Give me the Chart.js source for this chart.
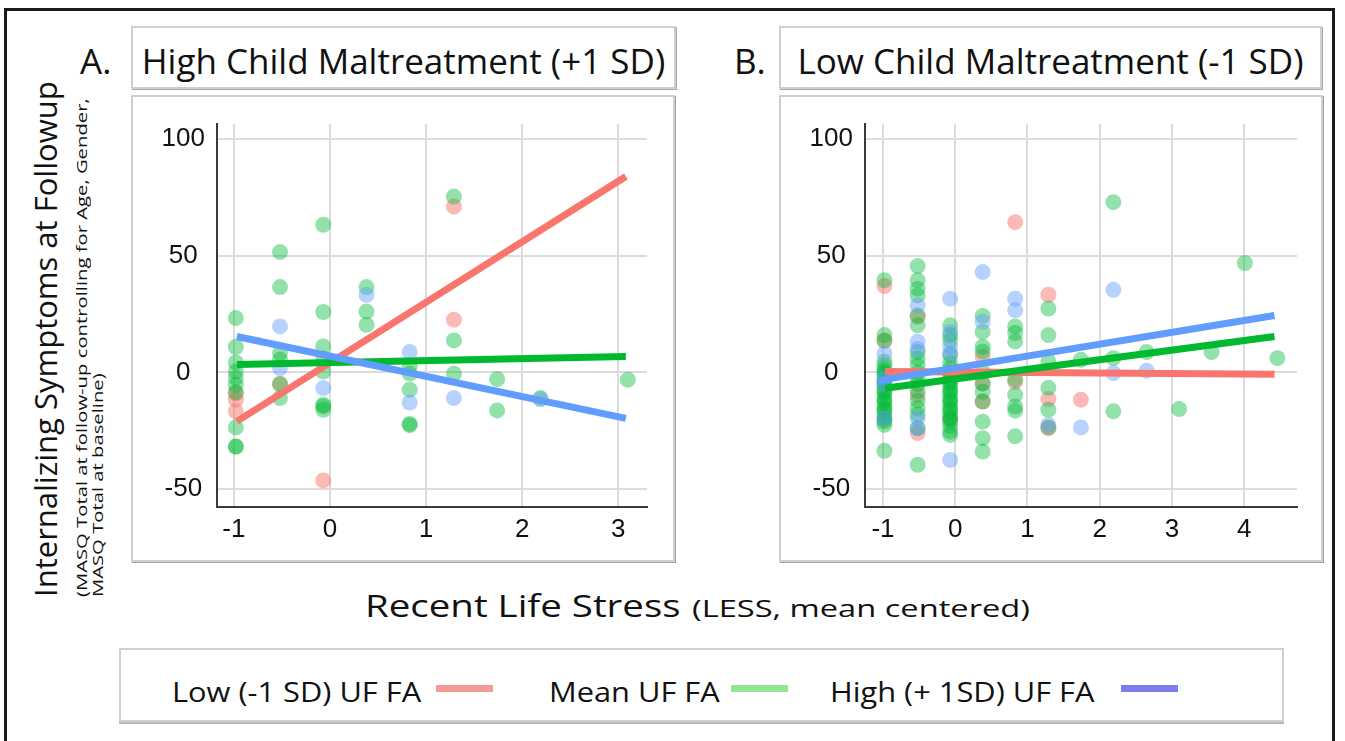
<!DOCTYPE html>
<html>
<head>
<meta charset="utf-8">
<script src="https://cdn.jsdelivr.net/npm/chart.js@4.4.0/dist/chart.umd.min.js"></script>
<style>
  body { margin: 0; width: 1345px; height: 741px; overflow: hidden; background: #fff; position: relative;
         font-family: "Open Sans", sans-serif; color: #111; }
  .frame { position: absolute; left: 4px; top: 8px; width: 1331px; height: 745px; border: 3px solid #1a1a1a; box-sizing: border-box; }
  .letter { position: absolute; top: 37px; font-size: 35px; line-height: normal; }
  .title-box { position: absolute; top: 26px; height: 63px; border: 2px solid #cfcfcf; box-shadow: 1px 1px 0 #a8a8a8;
               box-sizing: border-box; font-size: 35px; line-height: normal; padding-top: 9px; text-align: center; white-space: nowrap; }
  .panel { position: absolute; top: 95px; width: 544px; height: 467px; border: 2px solid #cfcfcf; box-shadow: 1px 1px 0 #a0a0a0; box-sizing: border-box; }
  .panel canvas { position: absolute; left: -2px; top: -2px; }
  .ylab { position: absolute; left: 24px; top: 597px; width: 540px; transform: rotate(-90deg); transform-origin: top left; white-space: nowrap; }
  .ylab .big { font-size: 31px; line-height: normal; }
  .ylab .small { font-size: 15px; line-height: 16px; transform: scaleX(1.35); transform-origin: left; }
  .xt { position: absolute; white-space: nowrap; line-height: normal; transform-origin: left; }
  .legend { position: absolute; left: 119px; top: 648px; width: 1165px; height: 74px; border: 2px solid #d0d0d0;
            box-shadow: 0 2px 0 #b8b8b8; box-sizing: border-box; }
  .item { position: absolute; top: 672px; font-size: 28px; line-height: normal; white-space: nowrap; transform: scaleX(1.1); transform-origin: left; }
  .swatch { position: absolute; top: 685px; width: 57px; height: 7px; }
</style>
</head>
<body>
<div class="frame"></div>

<div class="letter" style="left:80px">A.</div>
<div class="title-box" style="left:131px; width:545px">High Child Maltreatment (+1 SD)</div>
<div class="letter" style="left:734px">B.</div>
<div class="title-box" style="left:779px; width:543px">Low Child Maltreatment (-1 SD)</div>

<div class="panel" style="left:131px"><canvas id="chartA" width="544" height="467"></canvas></div>
<div class="panel" style="left:779px"><canvas id="chartB" width="544" height="467"></canvas></div>

<div class="ylab">
  <div class="big">Internalizing Symptoms at Followup</div>
  <div class="small" style="margin-top:7px">(MASQ Total at follow-up controlling for Age, Gender,</div>
  <div class="small">MASQ Total at baseline)</div>
</div>

<div class="xt" style="left:365px; top:584px; font-size:31px; transform:scaleX(1.24)">Recent Life Stress</div>
<div class="xt" style="left:692px; top:591px; font-size:24px; transform:scaleX(1.36)">(LESS, mean centered)</div>

<div class="legend"></div>
<div class="item" style="left:172px">Low (-1 SD) UF FA</div>
<div class="swatch" style="left:436px; background:#f29a94"></div>
<div class="item" style="left:549px">Mean UF FA</div>
<div class="swatch" style="left:731px; background:#93e493"></div>
<div class="item" style="left:830px">High (+ 1SD) UF FA</div>
<div class="swatch" style="left:1121px; background:#7d7df0"></div>

<script>
// LESS levels (mean centered) where the observations sit
const lessLevels = [-0.98, -0.52, -0.07, 0.38, 0.83, 1.29, 1.74, 2.19, 2.65, 3.10, 3.55, 4.01, 4.46];

// A. High child maltreatment - MASQ residuals per LESS level
const aRed   = [[-9, -11.7, -16.7], [-5], [-46.3], [], [], [71.1, 22.6], [], [], [], [], [], [], []];
const aGreen = [[23.3, 10.9, 4.3, 0.4, -2.4, -5.3, -8.5, -23.6, -31.7, -31.9],
                [51.6, 36.6, 8.3, 5.5, -5, -11],
                [63.3, 25.9, 11.1, 6, 0.4, -13.9, -14.5, -16],
                [36.6, 26.1, 20.4],
                [2.6, -0.5, -7.4, -22.1, -22.6],
                [75.4, 13.7, -0.6],
                [-2.9, -16.3],
                [-11], [], [-3.1], [], [], []];
const aBlue  = [[], [19.7, 1.9], [-6.7], [33.3], [8.7, -12.9], [-11], [], [-11.5], [], [], [], [], []];

// B. Low child maltreatment
const bRed   = [[37, 13.8], [23.8, -9.7, -26], [-19.7], [6.7, -4.7, -12.5], [64.4, -4], [33.3, -11.4, -23.9], [-11.7],
                [], [], [], [], [], []];
const bGreen = [[39.5, 16, 13.5, 4.6, 3, 1, 0, -1, -3, -4, -5, -7, -8, -9, -11, -12, -13, -15, -16, -17, -19, -20, -21, -22.5, -33.6],
                [45.6, 39.5, 35.9, 33, 24.5, 20.2, 8.8, 6, 3.1, 0, -2.6, -5, -8, -12, -15.4, -18, -23.9, -39.6],
                [20.2, 16, 13.8, 7.4, 4, 1.7, 0, -1, -3, -4, -5, -7, -8, -9, -11, -12, -13, -15, -16, -17, -19, -20, -21, -23, -25.4, -26.8],
                [24.2, 17.4, 11, 9, 0.3, -4.7, -8.3, -12.5, -21.1, -28.2, -33.9],
                [19.7, 16.9, 13.3, -3, -9.6, -14.6, -16.4, -27.4],
                [27.4, 16, 4.7, -6.6, -16, -23.6],
                [5.4],
                [73, 6.1, -16.7],
                [8.7], [-15.7], [8.7], [46.9], [6.1]];
const bBlue  = [[8.1, -2.6, -5, -19.7], [28.8, 13.1, 10, -19.7, -24], [31.6, 17.4, 11, 8, -37.5], [43, 21.7], [31.6, 26.6],
                [-22.5], [-23.6], [35.4, -0.3], [0.7], [], [], [], []];

// fitted simple slopes (end points)
const aLineX = [-0.97, 3.08];
const aRedLine = [-21, 84];
const aGreenLine = [3.4, 6.8];
const aBlueLine = [15.4, -19.7];

const bLineX = [-0.97, 4.42];
const bBlueLineX = [-1.05, 4.42];
const bRedLine = [0.4, -0.8];
const bGreenLine = [-6.8, 15.4];
const bBlueLine = [-3.4, 24.4];

const xTicksA = [-1, 0, 1, 2, 3];
const xTicksB = [-1, 0, 1, 2, 3, 4];
const yTicks = [-50, 0, 50, 100];

const RED = '#f8766d', GREEN = '#00b92f', BLUE = '#619cff';

function toPoints(groups) {
  const out = [];
  groups.forEach((ys, i) => ys.forEach(y => out.push({ x: lessLevels[i], y: y })));
  return out;
}

function scatterSet(groups, fill) {
  return { data: toPoints(groups), backgroundColor: fill, borderWidth: 0, pointRadius: 8, order: 2 };
}

function lineSet(xs, ys, color, order) {
  return { data: xs.map((x, i) => ({ x: x, y: ys[i] })), showLine: true, borderColor: color, borderWidth: 7,
           pointRadius: 0, borderCapStyle: 'butt', order: order };
}

function makeChart(id, sets, xMin, xMax, xTicks, rightPad) {
  const tickFont = { family: 'Liberation Sans', size: 26 };
  return new Chart(document.getElementById(id), {
    type: 'scatter',
    data: { datasets: sets },
    options: {
      responsive: false,
      animation: false,
      events: [],
      layout: { padding: { top: 29, right: rightPad, left: 2, bottom: 0 } },
      plugins: { legend: { display: false }, tooltip: { enabled: false } },
      scales: {
        x: {
          type: 'linear', min: xMin, max: xMax,
          afterBuildTicks: s => { s.ticks = xTicks.map(v => ({ value: v })); },
          afterFit: s => { s.height = 55; },
          grid: { color: '#dcdcdc', lineWidth: 2, drawTicks: false },
          border: { color: '#3a3a3a', width: 2 },
          ticks: { color: '#111', font: tickFont, padding: 7 }
        },
        y: {
          type: 'linear', min: -57.7, max: 106.5,
          afterBuildTicks: s => { s.ticks = yTicks.map(v => ({ value: v })); },
          afterFit: s => { s.width = 84; },
          grid: { color: '#dcdcdc', lineWidth: 2, drawTicks: false },
          border: { color: '#3a3a3a', width: 2 },
          ticks: { color: '#111', font: tickFont, padding: 12, crossAlign: 'center' }
        }
      }
    }
  });
}

makeChart('chartA', [
  lineSet(aLineX, aBlueLine, BLUE, 0),
  lineSet(aLineX, aGreenLine, GREEN, 0),
  lineSet(aLineX, aRedLine, RED, 0),
  scatterSet(aBlue, 'rgba(97,156,255,0.45)'),
  scatterSet(aGreen, 'rgba(0,186,56,0.42)'),
  scatterSet(aRed, 'rgba(248,118,109,0.5)')
], -1.176, 3.30, xTicksA, 28);

makeChart('chartB', [
  lineSet(bBlueLineX, bBlueLine, BLUE, 0),
  lineSet(bLineX, bGreenLine, GREEN, 0),
  lineSet(bLineX, bRedLine, RED, 0),
  scatterSet(bBlue, 'rgba(97,156,255,0.45)'),
  scatterSet(bGreen, 'rgba(0,186,56,0.42)'),
  scatterSet(bRed, 'rgba(248,118,109,0.5)')
], -1.249, 4.732, xTicksB, 26);
</script>
</body>
</html>
